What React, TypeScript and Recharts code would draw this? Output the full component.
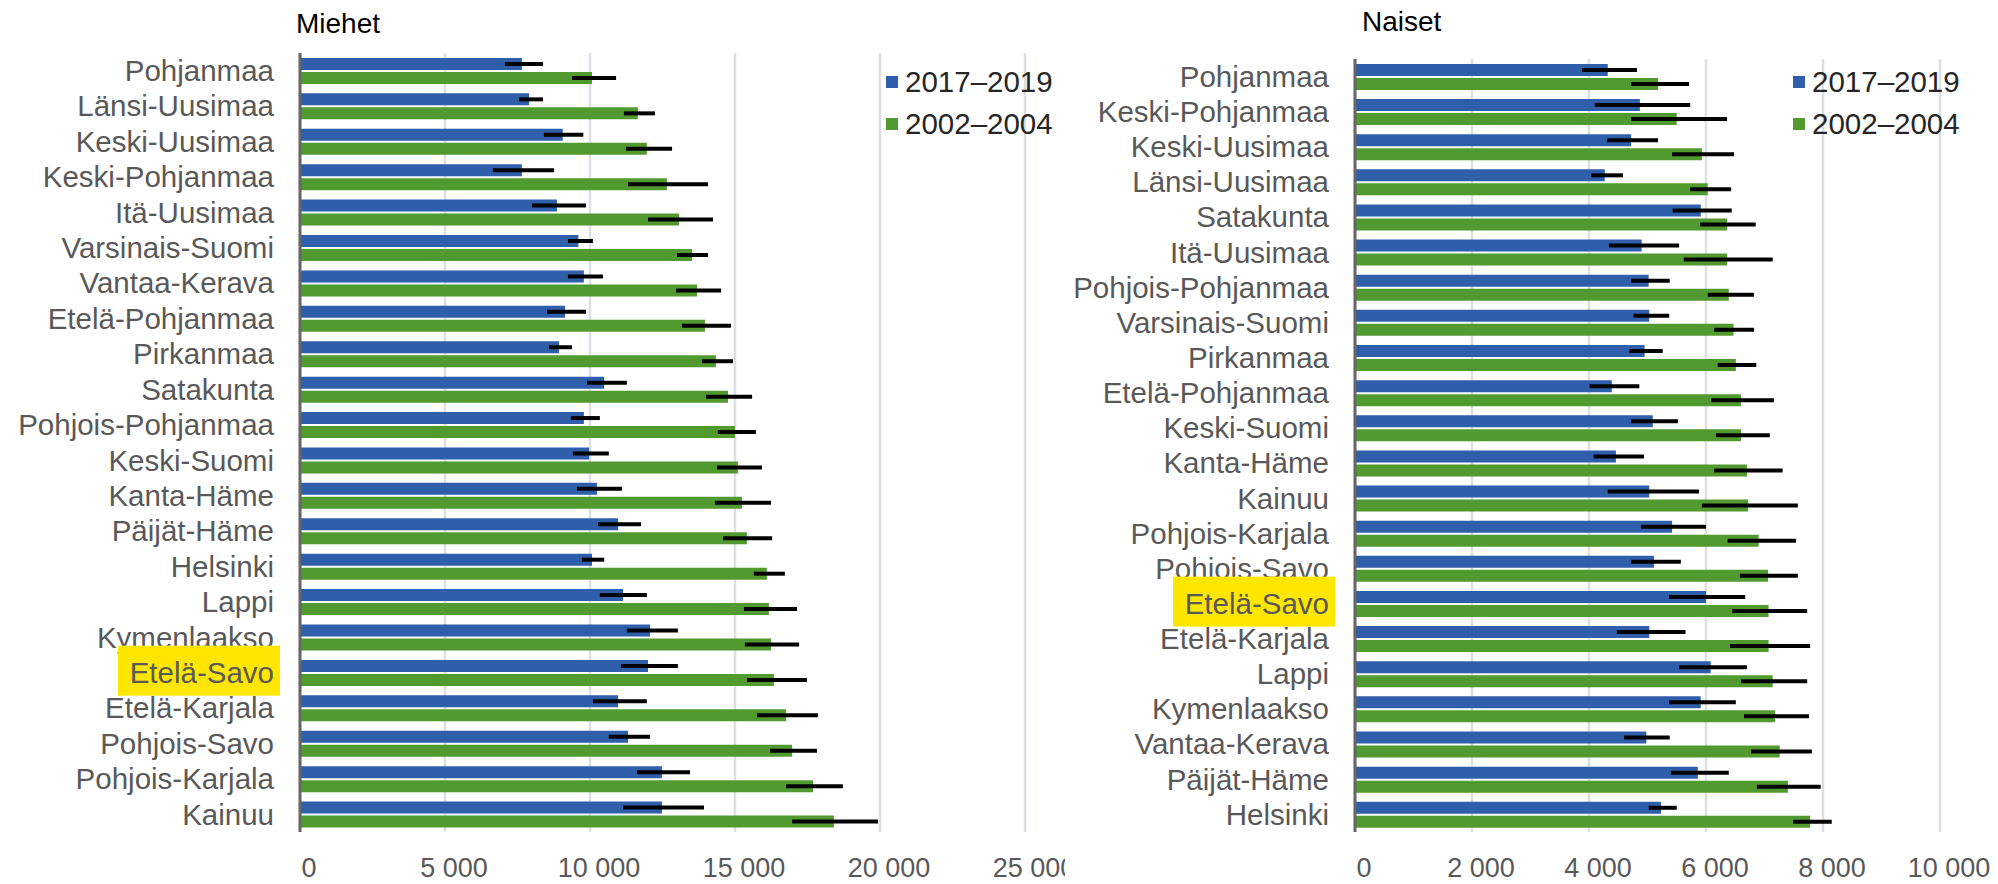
import React from 'react';
import { BarChart, Bar, XAxis, YAxis, CartesianGrid, ErrorBar, Legend } from 'recharts';

const FONT = '"Liberation Sans", Arial, sans-serif';
const BLUE = '#2f5eab';
const GREEN = '#509a30';
const LABEL = '#595959';

const seriesNames = ['2017–2019', '2002–2004'];
const highlighted = 'Etelä-Savo';

// Miehet
const menRegions = [
  'Pohjanmaa', 'Länsi-Uusimaa', 'Keski-Uusimaa', 'Keski-Pohjanmaa', 'Itä-Uusimaa',
  'Varsinais-Suomi', 'Vantaa-Kerava', 'Etelä-Pohjanmaa', 'Pirkanmaa', 'Satakunta',
  'Pohjois-Pohjanmaa', 'Keski-Suomi', 'Kanta-Häme', 'Päijät-Häme', 'Helsinki',
  'Lappi', 'Kymenlaakso', 'Etelä-Savo', 'Etelä-Karjala', 'Pohjois-Savo',
  'Pohjois-Karjala', 'Kainuu',
];
const menRecent = [7650, 7900, 9060, 7650, 8860, 9600, 9790, 9140, 8930, 10490, 9790, 9970, 10240, 10970, 10070, 11140, 12070, 12000, 10970, 11310, 12480, 12480];
const menRecentLow = [7070, 7550, 8410, 6650, 8000, 9240, 9240, 8520, 8590, 9900, 9340, 9410, 9550, 10280, 9720, 10340, 11270, 11070, 10100, 10650, 11620, 11140];
const menRecentHigh = [8380, 8380, 9770, 8760, 9860, 10100, 10450, 9860, 9380, 11270, 10340, 10650, 11100, 11760, 10490, 11960, 13030, 13030, 11960, 12070, 13450, 13930];
const menEarlier = [10070, 11650, 11960, 12650, 13070, 13520, 13690, 13970, 14340, 14760, 15000, 15100, 15240, 15410, 16100, 16170, 16240, 16340, 16760, 16970, 17690, 18410];
const menEarlierLow = [9380, 11170, 11240, 11310, 12000, 13000, 12970, 13170, 13860, 14000, 14410, 14380, 14310, 14590, 15650, 15310, 15340, 15410, 15760, 16210, 16760, 16970];
const menEarlierHigh = [10900, 12240, 12830, 14070, 14240, 14070, 14520, 14860, 14930, 15590, 15720, 15930, 16240, 16280, 16720, 17140, 17210, 17480, 17860, 17830, 18720, 19930];
const menTicks = [0, 5000, 10000, 15000, 20000, 25000];

// Naiset
const womenRegions = [
  'Pohjanmaa', 'Keski-Pohjanmaa', 'Keski-Uusimaa', 'Länsi-Uusimaa', 'Satakunta',
  'Itä-Uusimaa', 'Pohjois-Pohjanmaa', 'Varsinais-Suomi', 'Pirkanmaa', 'Etelä-Pohjanmaa',
  'Keski-Suomi', 'Kanta-Häme', 'Kainuu', 'Pohjois-Karjala', 'Pohjois-Savo',
  'Etelä-Savo', 'Etelä-Karjala', 'Lappi', 'Kymenlaakso', 'Vantaa-Kerava',
  'Päijät-Häme', 'Helsinki',
];
const womenRecent = [4320, 4870, 4720, 4270, 5910, 4900, 5020, 5030, 4950, 4390, 5090, 4460, 5030, 5420, 5110, 6000, 5030, 6080, 5910, 4980, 5860, 5230];
const womenRecentLow = [3880, 4100, 4310, 4040, 5430, 4340, 4720, 4760, 4690, 4010, 4720, 4080, 4320, 4890, 4720, 5370, 4480, 5540, 5370, 4600, 5400, 5020];
const womenRecentHigh = [4820, 5730, 5180, 4580, 6440, 5540, 5380, 5370, 5260, 4860, 5520, 4940, 5880, 6000, 5570, 6670, 5650, 6700, 6510, 5380, 6390, 5500];
const womenEarlier = [5180, 5500, 5930, 6030, 6360, 6360, 6390, 6470, 6510, 6600, 6600, 6700, 6720, 6900, 7060, 7070, 7070, 7140, 7180, 7260, 7400, 7780];
const womenEarlierLow = [4720, 4720, 5420, 5730, 5900, 5620, 6030, 6140, 6200, 6090, 6170, 6140, 5930, 6370, 6580, 6450, 6410, 6600, 6650, 6770, 6870, 7490];
const womenEarlierHigh = [5710, 6360, 6480, 6430, 6850, 7140, 6820, 6820, 6860, 7160, 7090, 7310, 7570, 7540, 7570, 7730, 7780, 7730, 7760, 7810, 7960, 8150];
const womenTicks = [0, 2000, 4000, 6000, 8000, 10000];

function buildRows(
  regions: string[], recent: number[], recentLow: number[], recentHigh: number[],
  earlier: number[], earlierLow: number[], earlierHigh: number[],
) {
  return regions.map((region, i) => ({
    region,
    recent: recent[i],
    recentErr: [recent[i] - recentLow[i], recentHigh[i] - recent[i]],
    earlier: earlier[i],
    earlierErr: [earlier[i] - earlierLow[i], earlierHigh[i] - earlier[i]],
  }));
}

const menRows = buildRows(menRegions, menRecent, menRecentLow, menRecentHigh, menEarlier, menEarlierLow, menEarlierHigh);
const womenRows = buildRows(womenRegions, womenRecent, womenRecentLow, womenRecentHigh, womenEarlier, womenEarlierLow, womenEarlierHigh);

const fmt = (v: number) => String(v).replace(/\B(?=(\d{3})+(?!\d))/g, ' ');

const RegionTick = (props: any) => {
  const { x, y, payload } = props;
  const end = x - 26;
  const hi = payload.value === highlighted;
  return (
    <g>
      {hi && <rect x={end - 156} y={y - 27} width={162} height={50} fill="#ffe600" />}
      <text x={end} y={y} dy="0.35em" textAnchor="end" fontSize={29.5} fontFamily={FONT} fill={LABEL}>
        {payload.value}
      </text>
    </g>
  );
};

const ValueTick = (props: any) => {
  const { x, y, payload } = props;
  return (
    <text x={x + 9} y={y + 36} dy="0.35em" textAnchor="middle" fontSize={27} fontFamily={FONT} fill={LABEL}>
      {fmt(payload.value)}
    </text>
  );
};

const LegendBox = () => (
  <div style={{ fontFamily: FONT, fontSize: 29.5, color: '#262626', lineHeight: '42px' }}>
    {seriesNames.map((name, i) => (
      <div key={name} style={{ display: 'flex', alignItems: 'center', whiteSpace: 'nowrap' }}>
        <span style={{ display: 'inline-block', width: 12, height: 12, background: i === 0 ? BLUE : GREEN, marginRight: 7 }} />
        {name}
      </div>
    ))}
  </div>
);

type PanelProps = {
  rows: any[];
  ticks: number[];
  width: number;
  top: number;
  right: number;
  yWidth: number;
  legendLeft: number;
};

const Panel = ({ rows, ticks, width, top, right, yWidth, legendLeft }: PanelProps) => (
  <BarChart
    width={width}
    height={884}
    data={rows}
    layout="vertical"
    margin={{ top, right, bottom: 0, left: 0 }}
    barCategoryGap="14%"
    barGap={2}
  >
    <CartesianGrid horizontal={false} stroke="#dcdfe4" strokeWidth={2.5} />
    <XAxis
      type="number"
      domain={[ticks[0], ticks[ticks.length - 1]]}
      ticks={ticks}
      interval={0}
      axisLine={false}
      tickLine={false}
      tickSize={0}
      tickMargin={0}
      height={52}
      tick={(p: any) => <ValueTick {...p} />}
    />
    <YAxis
      type="category"
      dataKey="region"
      width={yWidth}
      interval={0}
      axisLine={{ stroke: '#666666', strokeWidth: 3 }}
      tickLine={false}
      tickSize={0}
      tickMargin={0}
      tick={(p: any) => <RegionTick {...p} />}
    />
    <Legend
      layout="horizontal"
      verticalAlign="middle"
      align="center"
      content={() => <LegendBox />}
      wrapperStyle={{ left: legendLeft, top: 61, width: 'auto', height: 'auto' }}
    />
    <Bar dataKey="recent" name={seriesNames[0]} fill={BLUE} isAnimationActive={false}>
      <ErrorBar dataKey="recentErr" direction="x" width={0} stroke="#000" strokeWidth={4} isAnimationActive={false} />
    </Bar>
    <Bar dataKey="earlier" name={seriesNames[1]} fill={GREEN} isAnimationActive={false}>
      <ErrorBar dataKey="earlierErr" direction="x" width={0} stroke="#000" strokeWidth={4} isAnimationActive={false} />
    </Bar>
  </BarChart>
);

const titleStyle: React.CSSProperties = {
  position: 'absolute',
  fontFamily: FONT,
  fontSize: 28,
  lineHeight: '28px',
  color: '#000',
};

export default function App() {
  return (
    <div style={{ position: 'absolute', left: 0, top: 0, width: 1998, height: 884, background: '#fff', overflow: 'hidden' }}>
      <div style={{ ...titleStyle, left: 296, top: 10 }}>Miehet</div>
      <div style={{ ...titleStyle, left: 1362, top: 8 }}>Naiset</div>
      <div style={{ position: 'absolute', left: 0, top: 0, width: 1065, height: 884, overflow: 'hidden' }}>
        <Panel rows={menRows} ticks={menTicks} width={1065} top={53} right={40} yWidth={300} legendLeft={886} />
      </div>
      <div style={{ position: 'absolute', left: 1065, top: 0, width: 933, height: 884, overflow: 'hidden' }}>
        <Panel rows={womenRows} ticks={womenTicks} width={933} top={59} right={58} yWidth={290} legendLeft={728} />
      </div>
    </div>
  );
}
